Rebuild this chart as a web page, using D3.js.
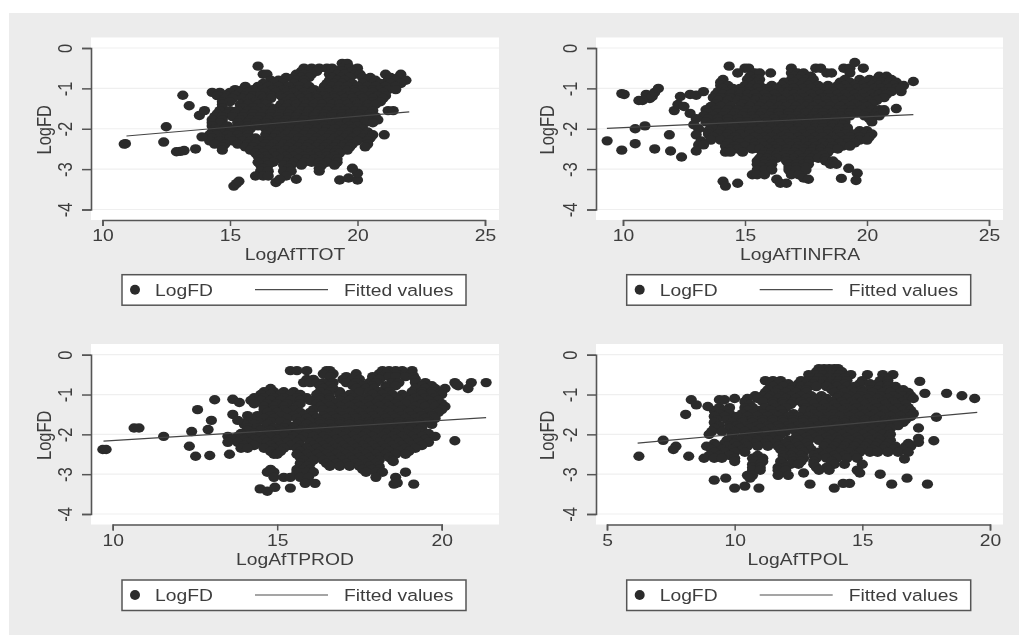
<!DOCTYPE html>
<html>
<head>
<meta charset="utf-8">
<script src="https://cdn.jsdelivr.net/npm/d3@7"></script>
<style>
html, body { margin: 0; padding: 0; background: #fff; }
svg { display: block; filter: blur(0.6px); }
text { font-family: "Liberation Sans", Arial, sans-serif; fill: #3d3d3d; }
</style>
</head>
<body>
<svg id="svgId" width="1019" height="641"></svg>
<script>
var yTicks = [0, -1, -2, -3, -4];
var yTickLabels = ["0", "-1", "-2", "-3", "-4"];
var legendLabels = ["LogFD", "Fitted values"];

// each row: [LogFD, [x values read at that height]]
var ttotRows = [
    [-0.38, [19.4, 19.6]],
    [-0.5, [17.9, 18.2, 18.5, 18.8, 19.0, 19.4, 19.7, 20.0]],
    [-0.58, [17.8, 18.1, 18.4, 19.1, 19.4, 19.8]],
    [-0.65, [16.3, 16.45, 17.6, 17.9, 18.2, 18.9, 19.2, 19.5, 19.9, 20.1, 21.1, 21.7]],
    [-0.73, [17.2, 17.5, 17.8, 18.1, 19.0, 19.35, 19.7, 20.2, 20.5, 21.3, 21.6]],
    [-0.8, [16.6, 16.9, 17.6, 17.9, 18.9, 19.2, 19.5, 20.4, 20.7, 21.2, 21.5, 21.9]],
    [-0.88, [16.3, 16.7, 17.1, 17.5, 17.9, 18.8, 19.1, 19.4, 19.8, 20.2, 20.6, 20.9, 21.3, 21.7]],
    [-0.95, [15.6, 16.1, 16.5, 16.9, 17.3, 17.7, 18.1, 18.7, 19.0, 19.3, 19.6, 20.0, 20.4, 20.7, 21.1, 21.5]],
    [-1.03, [15.2, 15.5, 15.9, 16.3, 16.7, 17.1, 17.5, 17.7, 18.3, 18.9, 19.2, 19.5, 19.9, 20.2, 20.6, 20.9, 21.2, 21.5]],
    [-1.1, [14.3, 14.6, 15.0, 15.4, 15.7, 16.0, 16.4, 16.8, 17.2, 17.5, 17.9, 18.2, 18.6, 18.9, 19.2, 19.6, 19.9, 20.3, 20.6, 21.0]],
    [-1.18, [14.5, 14.9, 15.2, 15.6, 15.9, 16.2, 16.6, 17.0, 17.3, 17.7, 18.0, 18.4, 18.7, 19.1, 19.4, 19.7, 20.1, 20.5, 20.8, 21.1]],
    [-1.25, [14.8, 15.1, 15.5, 15.8, 16.3, 16.6, 17.1, 17.4, 17.8, 18.1, 18.4, 18.8, 19.1, 19.5, 19.8, 20.2, 20.6, 21.0]],
    [-1.33, [14.7, 15.0, 15.6, 16.0, 16.4, 17.2, 17.5, 17.9, 18.2, 18.5, 18.9, 19.2, 19.5, 19.9, 20.3, 20.6, 20.9]],
    [-1.4, [14.7, 15.4, 15.7, 16.1, 16.4, 17.0, 17.3, 17.6, 18.0, 18.3, 18.6, 19.0, 19.3, 19.6, 20.0, 20.4, 20.7]],
    [-1.48, [14.7, 15.5, 15.9, 16.2, 16.6, 16.9, 17.2, 17.6, 17.9, 18.3, 18.6, 18.9, 19.3, 19.7, 20.0, 20.4]],
    [-1.55, [14.6, 15.0, 15.3, 15.7, 16.0, 16.4, 16.7, 17.1, 17.4, 17.8, 18.1, 18.5, 18.8, 19.2, 19.5, 19.9, 20.2, 20.6, 21.2, 21.4]],
    [-1.63, [14.5, 14.9, 15.2, 15.6, 15.9, 16.3, 16.6, 17.0, 17.3, 17.7, 18.0, 18.4, 18.7, 19.1, 19.4, 19.7, 20.1, 20.5]],
    [-1.7, [14.4, 14.7, 15.1, 15.5, 15.9, 16.2, 16.6, 16.9, 17.3, 17.6, 18.0, 18.3, 18.7, 19.0, 19.4, 19.7, 20.0, 20.4, 20.7]],
    [-1.78, [14.3, 14.7, 15.4, 15.8, 16.1, 16.5, 16.9, 17.2, 17.6, 17.9, 18.3, 18.6, 19.0, 19.3, 19.7, 20.0, 20.4, 20.8]],
    [-1.85, [14.3, 14.6, 15.3, 15.7, 16.0, 16.4, 16.8, 17.1, 17.5, 17.8, 18.2, 18.5, 18.9, 19.2, 19.6, 19.9, 20.3, 20.6]],
    [-1.93, [14.3, 14.9, 15.4, 15.7, 16.1, 16.5, 16.9, 17.2, 17.6, 17.9, 18.3, 18.7, 19.0, 19.3, 19.7, 20.0]],
    [-2.0, [14.4, 14.8, 15.2, 15.5, 15.8, 16.4, 16.7, 17.0, 17.4, 17.7, 18.1, 18.4, 18.8, 19.1, 19.5, 19.8, 20.2]],
    [-2.08, [14.3, 14.7, 15.0, 15.4, 15.7, 16.5, 16.9, 17.3, 17.6, 18.0, 18.3, 18.7, 19.0, 19.4, 19.7, 20.0, 20.4]],
    [-2.15, [14.2, 14.5, 14.9, 15.3, 15.7, 16.4, 16.8, 17.2, 17.5, 17.9, 18.2, 18.6, 18.9, 19.3, 19.6, 20.0, 20.3, 20.6, 21.05]],
    [-2.23, [14.3, 14.6, 15.0, 15.4, 15.7, 16.0, 16.4, 16.7, 17.0, 17.4, 17.7, 18.1, 18.4, 18.8, 19.1, 19.5, 19.8, 20.2, 20.5]],
    [-2.3, [14.2, 14.6, 15.1, 15.5, 15.8, 16.2, 16.5, 16.9, 17.2, 17.6, 17.9, 18.3, 18.6, 19.0, 19.3, 19.7, 20.0, 20.4]],
    [-2.38, [14.4, 14.8, 15.3, 15.7, 16.0, 16.4, 16.7, 17.1, 17.4, 17.8, 18.1, 18.5, 18.8, 19.2, 19.5, 19.8, 20.4]],
    [-2.45, [14.7, 15.6, 15.9, 16.3, 16.6, 17.0, 17.3, 17.7, 18.0, 18.4, 18.7, 19.1, 19.4, 19.7, 20.3]],
    [-2.53, [14.7, 15.8, 16.1, 16.5, 16.8, 17.2, 17.5, 17.9, 18.2, 18.6, 18.9, 19.2, 19.6]],
    [-2.6, [16.0, 16.3, 16.7, 17.0, 17.4, 17.7, 18.1, 18.4, 18.8, 19.1, 19.3]],
    [-2.68, [16.1, 16.4, 16.8, 17.2, 17.5, 17.9, 18.2, 18.5, 18.8, 19.1]],
    [-2.75, [16.2, 16.5, 17.0, 17.3, 17.7, 18.0, 18.3, 18.6, 18.9, 19.2]],
    [-2.83, [16.1, 16.4, 16.7, 17.2, 17.5, 17.9, 18.2, 18.5, 18.8, 19.2]],
    [-2.9, [16.2, 16.5, 17.1, 17.4, 17.8, 18.6, 19.1]],
    [-2.98, [16.3, 17.3, 18.5]],
    [-3.05, [16.2, 16.5, 17.1, 17.4, 18.5]],
    [-3.17, [16.0, 16.3, 16.5, 17.2]]
];
var ttotOutliers = [[10.9, -2.37], [10.85, -2.38], [12.4, -2.33], [12.5, -1.95], [13.15, -1.17], [13.4, -1.43], [13.8, -1.67], [14.0, -1.55],
    [12.9, -2.57], [13.05, -2.56], [13.2, -2.54], [13.65, -2.5], [13.9, -2.2], [15.15, -3.42], [15.25, -3.36], [15.35, -3.3], [16.1, -0.45],
    [16.8, -3.33], [16.95, -3.25], [17.6, -3.25], [19.3, -3.27], [19.65, -3.22], [20.0, -3.27], [20.0, -3.1], [19.8, -2.98]];
var ttotFit = [[10.94, -2.18], [22.03, -1.58]];

var infraRows = [
    [-0.5, [15.0, 15.15, 16.9, 17.9, 18.1, 19.05, 19.3, 19.85]],
    [-0.62, [14.7, 15.4, 15.6, 16.05, 16.9, 17.15, 17.4, 18.35, 18.55, 19.3]],
    [-0.7, [15.2, 17.0, 17.3, 17.7, 20.5, 20.8]],
    [-0.78, [14.1, 15.1, 15.4, 15.6, 16.9, 17.2, 17.5, 17.8, 19.1, 19.7, 20.1, 20.4, 20.7, 21.0]],
    [-0.85, [14.0, 15.2, 15.5, 16.6, 17.0, 17.4, 17.7, 18.9, 19.3, 19.9, 20.3, 20.6, 20.9, 21.2]],
    [-0.93, [14.0, 14.3, 15.0, 15.3, 15.6, 16.1, 16.5, 16.9, 17.3, 17.6, 18.0, 18.4, 18.8, 19.1, 19.5, 19.8, 20.2, 20.5, 20.8, 21.1, 21.5]],
    [-1.0, [14.1, 14.5, 14.8, 15.2, 15.5, 15.9, 16.3, 16.7, 17.0, 17.4, 17.7, 18.1, 18.5, 18.9, 19.2, 19.6, 19.9, 20.3, 20.6, 20.9, 21.2]],
    [-1.08, [13.9, 14.2, 14.6, 14.9, 15.2, 15.6, 16.0, 16.5, 16.8, 17.1, 17.5, 17.9, 18.3, 18.6, 19.0, 19.3, 19.7, 20.0, 20.4, 20.7, 21.0, 21.4]],
    [-1.15, [13.8, 14.1, 14.4, 14.8, 15.1, 15.4, 15.8, 16.2, 16.7, 17.0, 17.3, 17.7, 18.1, 18.4, 18.8, 19.1, 19.5, 19.8, 20.2, 20.5, 20.8]],
    [-1.23, [13.7, 14.0, 14.4, 14.8, 15.1, 15.5, 15.9, 16.3, 16.7, 17.1, 17.4, 17.8, 18.2, 18.5, 18.9, 19.2, 19.6, 19.9, 20.3, 20.7]],
    [-1.3, [13.9, 14.3, 14.7, 15.0, 15.4, 15.8, 16.2, 16.5, 16.9, 17.2, 17.6, 18.0, 18.3, 18.7, 19.0, 19.4, 19.7, 20.1, 20.4]],
    [-1.38, [13.8, 14.2, 14.9, 15.3, 15.7, 16.1, 16.6, 16.9, 17.3, 17.6, 18.0, 18.4, 18.7, 19.1, 19.5, 19.9, 20.2]],
    [-1.45, [13.6, 14.0, 14.4, 14.8, 15.2, 15.6, 16.0, 16.4, 16.7, 17.1, 17.5, 17.8, 18.2, 18.5, 18.9, 19.3, 19.7, 20.0]],
    [-1.53, [13.4, 13.8, 14.3, 14.7, 15.1, 15.5, 15.8, 16.2, 16.5, 17.0, 17.3, 17.7, 18.0, 18.4, 18.8, 19.1, 19.4, 19.8, 20.2, 20.5, 20.7]],
    [-1.6, [13.5, 13.9, 14.2, 14.6, 15.0, 15.3, 15.7, 16.1, 16.4, 16.8, 17.2, 17.5, 17.9, 18.2, 18.6, 19.0, 19.3, 19.6, 20.0, 20.4]],
    [-1.68, [13.3, 13.7, 14.1, 14.5, 14.9, 15.3, 15.6, 16.0, 16.4, 16.8, 17.1, 17.5, 17.8, 18.2, 18.6, 18.9, 19.3, 19.9, 20.3, 20.5]],
    [-1.75, [13.5, 13.9, 14.3, 14.7, 15.1, 15.4, 15.8, 16.2, 16.6, 16.9, 17.3, 17.7, 18.0, 18.4, 18.7, 19.1, 20.1]],
    [-1.83, [13.4, 13.9, 14.3, 14.8, 15.1, 15.5, 15.9, 16.3, 16.6, 17.0, 17.3, 17.7, 18.0, 18.4, 18.8, 19.1, 20.2]],
    [-1.9, [13.6, 14.0, 14.5, 14.9, 15.3, 15.7, 16.1, 16.4, 16.8, 17.2, 17.5, 17.9, 18.2, 18.6, 19.0]],
    [-1.98, [13.7, 14.1, 14.6, 15.0, 15.3, 15.7, 16.1, 16.5, 16.8, 17.2, 17.5, 17.9, 18.2, 18.6, 18.9, 19.2]],
    [-2.05, [13.5, 14.0, 14.4, 14.9, 15.2, 15.5, 15.9, 16.3, 16.6, 17.0, 17.3, 17.7, 18.1, 18.4, 18.8, 19.2, 19.7, 20.0]],
    [-2.13, [13.5, 13.9, 14.3, 14.8, 15.2, 15.6, 16.0, 16.3, 16.7, 17.0, 17.4, 17.7, 18.1, 18.4, 18.8, 19.1, 19.5, 19.9, 20.2]],
    [-2.2, [13.7, 14.2, 14.6, 15.0, 15.4, 15.8, 16.1, 16.5, 16.8, 17.2, 17.5, 17.9, 18.2, 18.6, 18.9, 19.3, 19.7, 20.1]],
    [-2.28, [13.6, 14.0, 14.4, 14.7, 15.2, 15.6, 15.9, 16.3, 16.6, 17.0, 17.3, 17.7, 18.0, 18.4, 18.7, 19.1, 19.4, 19.7, 20.0]],
    [-2.35, [14.3, 14.8, 15.4, 15.7, 16.1, 16.4, 16.8, 17.1, 17.5, 17.8, 18.2, 18.5, 18.9, 19.2, 19.5]],
    [-2.43, [14.2, 14.6, 15.0, 15.4, 15.8, 16.2, 16.5, 16.9, 17.2, 17.6, 17.9, 18.3, 18.6, 19.0, 19.3]],
    [-2.5, [14.4, 14.7, 15.3, 15.6, 16.0, 16.3, 16.7, 17.1, 17.4, 17.8, 18.1, 18.5, 18.8]],
    [-2.58, [14.2, 14.4, 14.9, 15.8, 16.1, 16.4, 16.7, 17.0, 17.4, 17.7, 18.1, 18.4]],
    [-2.65, [15.7, 16.0, 16.3, 16.6, 16.9, 17.2, 17.6, 17.9, 18.2]],
    [-2.73, [15.6, 15.9, 16.3, 16.7, 17.0, 17.4, 17.7, 18.0, 18.3]],
    [-2.8, [15.5, 15.8, 16.1, 16.7, 17.0, 17.3, 17.6, 18.3, 18.6]],
    [-2.88, [15.5, 15.8, 16.1, 16.8, 17.1, 17.4, 17.6, 18.5, 18.75]],
    [-2.95, [15.7, 16.0, 16.8, 17.1, 17.5]],
    [-3.02, [15.5, 15.8, 16.1, 16.8, 17.1, 17.5]],
    [-3.14, [15.3, 15.5, 15.8, 16.9, 17.2]]
];
var infraOutliers = [[9.95, -1.13], [10.05, -1.15], [10.65, -1.3], [10.8, -1.3], [10.95, -1.15], [11.1, -1.25], [11.2, -1.2], [11.3, -1.1], [11.45, -1.0],
    [10.5, -2.0], [10.9, -1.93], [9.35, -2.3], [9.95, -2.53], [10.5, -2.37], [11.3, -2.5], [11.95, -2.55], [12.4, -2.7], [11.9, -2.15],
    [12.35, -1.2], [12.75, -1.15], [13.0, -1.17], [13.3, -1.08], [12.1, -1.55], [12.25, -1.4], [12.5, -1.45], [12.75, -1.62], [13.0, -1.75],
    [12.9, -1.9], [13.1, -2.0], [13.0, -2.15], [13.2, -2.3], [13.1, -2.4], [13.3, -2.4], [13.0, -2.55], [14.35, -0.45], [19.5, -0.36],
    [21.9, -0.83], [21.4, -1.0], [21.2, -1.5], [20.7, -1.58], [19.25, -2.98], [19.6, -3.1], [19.55, -3.28], [18.95, -3.23], [14.1, -3.3], [14.2, -3.42],
    [14.7, -3.35], [16.3, -3.25], [16.45, -3.35], [16.7, -3.35], [17.4, -3.22], [17.6, -3.25]];
var infraFit = [[9.34, -1.99], [21.9, -1.65]];

var prodRows = [
    [-0.4, [15.4, 15.6, 15.9, 16.5, 16.6, 18.2, 18.4, 18.6, 18.8, 19.1]],
    [-0.48, [16.4, 16.7, 17.4, 18.1, 18.3, 18.6, 18.9, 19.1]],
    [-0.55, [16.6, 17.1, 17.4, 17.9, 18.2, 18.4, 18.6, 18.9, 19.15]],
    [-0.62, [15.9, 16.1, 17.0, 17.3, 17.5, 17.9, 18.1, 19.2]],
    [-0.7, [15.8, 16.0, 16.2, 16.4, 16.7, 17.1, 17.4, 17.8, 18.0, 18.5, 18.7, 19.2, 19.5, 20.4, 20.9, 21.35]],
    [-0.78, [16.3, 16.6, 17.3, 17.6, 17.9, 18.3, 18.6, 19.4, 19.7, 20.5]],
    [-0.85, [14.8, 16.4, 16.7, 17.4, 17.7, 17.95, 18.3, 19.2, 19.5, 19.8, 20.1, 20.8]],
    [-0.93, [14.6, 14.9, 15.2, 15.5, 16.3, 16.6, 16.9, 17.5, 17.8, 18.1, 18.4, 19.1, 19.4, 19.7, 20.0]],
    [-1.0, [14.5, 14.8, 15.1, 15.4, 15.7, 16.2, 16.5, 16.9, 17.2, 17.9, 18.2, 18.5, 18.8, 19.1, 19.4, 19.7, 20.0]],
    [-1.08, [14.3, 14.6, 14.9, 15.2, 15.6, 15.9, 16.3, 16.6, 17.0, 17.3, 17.7, 18.0, 18.3, 18.6, 18.9, 19.2, 19.5, 19.8]],
    [-1.15, [14.2, 14.5, 14.8, 15.1, 15.4, 15.7, 16.0, 16.3, 16.6, 16.9, 17.2, 17.5, 17.8, 18.1, 18.4, 18.7, 19.0, 19.3, 19.6, 19.9]],
    [-1.23, [14.3, 14.7, 15.0, 15.3, 15.7, 16.2, 16.5, 16.8, 17.1, 17.4, 17.7, 18.0, 18.3, 18.6, 18.9, 19.4, 19.7, 20.0]],
    [-1.3, [14.6, 14.9, 15.2, 15.6, 16.3, 16.6, 16.9, 17.2, 17.5, 17.8, 18.1, 18.4, 18.7, 19.2, 19.5, 19.8, 20.1]],
    [-1.38, [14.6, 14.9, 15.2, 15.5, 16.1, 16.4, 16.7, 17.0, 17.3, 17.6, 17.9, 18.2, 18.5, 18.8, 19.1, 20.0]],
    [-1.45, [14.7, 15.0, 15.3, 15.7, 16.0, 16.6, 16.9, 17.2, 17.5, 17.8, 18.1, 18.4, 18.7, 19.0, 19.3, 19.6, 19.9]],
    [-1.53, [14.1, 14.4, 14.8, 15.1, 15.5, 15.8, 16.1, 16.4, 16.7, 17.0, 17.3, 17.6, 17.9, 18.2, 18.5, 18.8, 19.1, 19.4, 19.7]],
    [-1.6, [14.2, 14.6, 14.9, 15.3, 15.6, 15.9, 16.2, 16.5, 16.8, 17.1, 17.4, 17.7, 18.0, 18.3, 18.6, 18.9, 19.2, 19.5, 19.8]],
    [-1.68, [14.1, 14.4, 14.8, 15.1, 15.7, 16.0, 16.3, 16.6, 16.9, 17.2, 17.5, 17.8, 18.1, 18.4, 18.7, 19.0, 19.3, 19.6]],
    [-1.75, [14.0, 14.3, 14.7, 15.3, 15.6, 15.9, 16.3, 16.6, 16.9, 17.2, 17.5, 17.8, 18.1, 18.4, 18.7, 19.0, 19.3, 19.7]],
    [-1.83, [14.1, 14.4, 14.9, 15.2, 15.5, 15.8, 16.1, 16.4, 16.7, 17.0, 17.3, 17.6, 17.9, 18.2, 18.5, 18.8, 19.1, 19.4]],
    [-1.9, [14.1, 14.5, 14.8, 15.1, 15.4, 15.7, 16.0, 16.3, 16.6, 16.9, 17.2, 17.5, 17.8, 18.1, 18.4, 18.7, 19.0, 19.3]],
    [-1.98, [13.9, 14.3, 14.7, 15.0, 15.3, 15.6, 15.9, 16.2, 16.5, 16.8, 17.1, 17.4, 17.7, 18.0, 18.3, 18.6, 18.9, 19.2, 19.6]],
    [-2.05, [13.5, 13.8, 14.1, 14.5, 14.8, 15.2, 15.5, 15.8, 16.1, 16.4, 16.7, 17.0, 17.3, 17.6, 17.9, 18.2, 18.5, 18.8, 19.1, 19.4, 19.8]],
    [-2.13, [13.6, 14.0, 14.3, 14.6, 15.0, 15.4, 15.7, 16.2, 16.5, 16.8, 17.1, 17.4, 17.7, 18.0, 18.3, 18.6, 18.9, 19.2, 19.5]],
    [-2.2, [13.5, 13.8, 14.1, 14.4, 14.7, 15.0, 15.3, 15.6, 16.0, 16.3, 16.6, 16.9, 17.2, 17.5, 17.8, 18.1, 18.4, 18.7, 19.0, 19.3, 19.6]],
    [-2.28, [14.0, 14.3, 14.8, 15.1, 15.4, 15.7, 16.1, 16.4, 16.7, 17.0, 17.3, 17.6, 17.9, 18.2, 18.5, 18.8, 19.1, 19.4]],
    [-2.35, [13.9, 14.1, 14.6, 14.9, 15.2, 15.6, 15.9, 16.2, 16.5, 16.8, 17.1, 17.4, 17.7, 18.0, 18.3, 18.6, 18.9, 19.2]],
    [-2.43, [14.8, 15.1, 15.7, 16.0, 16.3, 16.6, 16.9, 17.2, 17.5, 17.8, 18.1, 18.4, 18.7, 19.0]],
    [-2.5, [14.9, 15.0, 15.6, 15.9, 16.2, 16.5, 16.8, 17.1, 17.4, 17.7, 18.0, 18.3, 18.6, 18.9]],
    [-2.58, [15.7, 16.0, 16.3, 16.6, 16.9, 17.2, 17.5, 17.8, 18.1, 18.4]],
    [-2.65, [15.8, 16.1, 16.4, 16.7, 17.0, 17.3, 17.6, 17.9, 18.1, 18.5]],
    [-2.73, [15.7, 16.0, 16.5, 16.8, 17.1, 17.4, 17.7, 18.0]],
    [-2.8, [15.7, 15.9, 16.6, 16.9, 17.2, 17.5, 17.8, 18.1]],
    [-2.88, [14.8, 15.6, 15.8, 16.0, 17.6, 17.9, 18.1]],
    [-2.95, [14.7, 14.9, 15.6, 15.9, 16.1, 17.7, 18.0, 18.2, 18.9]],
    [-3.08, [14.9, 15.2, 15.4, 15.7, 15.95, 18.0, 18.6]]
];
var prodOutliers = [[9.7, -2.38], [9.8, -2.38], [10.65, -1.84], [10.8, -1.84], [11.55, -2.05], [12.33, -2.3], [12.52, -2.55], [12.4, -1.93], [12.9, -1.88],
    [13.0, -1.65], [12.58, -1.38], [13.1, -1.13], [12.95, -2.53], [13.55, -2.5], [13.65, -1.5], [13.8, -1.65], [13.65, -1.12], [13.85, -1.2],
    [14.48, -3.37], [14.7, -3.43], [14.93, -3.33], [15.4, -3.35], [15.85, -3.23], [16.15, -3.23], [18.55, -3.25], [18.65, -3.22], [19.15, -3.25],
    [20.4, -2.16], [18.53, -2.68], [20.45, -0.75]];
var prodFit = [[9.72, -2.17], [21.35, -1.58]];

var polRows = [
    [-0.35, [13.3, 13.5, 13.7, 13.9, 14.05]],
    [-0.43, [13.2, 13.4, 13.7, 14.0, 14.2]],
    [-0.5, [12.9, 13.2, 13.5, 13.8, 14.1, 14.55, 15.2, 15.8, 16.2]],
    [-0.58, [13.0, 13.3, 13.7, 14.0, 14.3, 15.9]],
    [-0.65, [11.2, 11.5, 11.8, 12.6, 12.9, 13.2, 13.5, 13.8, 14.1, 14.4, 15.0, 15.7, 16.0]],
    [-0.73, [11.4, 11.7, 12.1, 12.5, 12.8, 13.1, 13.4, 13.7, 14.0, 14.3, 14.9, 15.3, 15.6, 16.0]],
    [-0.8, [11.5, 11.9, 12.3, 12.6, 12.9, 13.2, 13.6, 14.0, 14.4, 14.7, 15.4, 15.7, 16.0, 16.3]],
    [-0.88, [11.3, 11.7, 12.2, 12.5, 12.8, 13.8, 14.2, 14.6, 15.0, 15.3, 15.6, 16.0, 16.3, 16.6]],
    [-0.95, [11.2, 11.6, 12.0, 12.4, 12.8, 13.9, 14.3, 14.7, 15.0, 15.4, 15.8, 16.1, 16.5, 16.8]],
    [-1.03, [10.8, 11.1, 11.4, 11.8, 12.2, 12.6, 13.0, 13.4, 14.1, 14.5, 14.9, 15.3, 15.7, 16.2, 16.6, 16.9]],
    [-1.1, [10.5, 10.9, 11.3, 11.7, 12.0, 12.4, 12.8, 13.2, 13.6, 14.0, 14.4, 14.8, 15.2, 15.6, 16.0, 16.4, 16.8, 17.0]],
    [-1.18, [10.4, 11.1, 11.5, 11.9, 12.3, 12.6, 13.0, 13.4, 13.8, 14.2, 14.6, 15.0, 15.4, 15.8, 16.2, 16.6]],
    [-1.25, [10.6, 11.5, 11.9, 12.2, 12.7, 13.1, 13.5, 13.9, 14.3, 14.7, 15.1, 15.5, 15.9, 16.3, 16.7]],
    [-1.33, [9.4, 9.8, 10.4, 10.7, 11.2, 11.6, 12.0, 12.8, 13.2, 13.6, 14.0, 14.4, 14.8, 15.2, 15.6, 16.0, 16.4, 16.8]],
    [-1.4, [9.2, 9.6, 10.5, 10.9, 11.4, 11.8, 12.7, 13.0, 13.4, 13.8, 14.2, 14.6, 15.0, 15.4, 15.8, 16.2, 16.6, 16.9]],
    [-1.48, [9.4, 9.8, 10.3, 10.7, 11.1, 11.5, 11.9, 12.3, 13.1, 13.5, 13.9, 14.3, 14.7, 15.1, 15.5, 15.9, 16.3, 16.7, 17.0]],
    [-1.55, [9.2, 9.6, 10.1, 10.5, 10.9, 11.3, 11.7, 12.1, 12.5, 12.9, 13.3, 13.7, 14.1, 14.5, 14.9, 15.3, 15.7, 16.1, 16.5, 16.9]],
    [-1.63, [9.3, 9.7, 10.3, 10.7, 11.1, 11.5, 11.9, 12.3, 12.7, 13.1, 13.5, 13.9, 14.3, 14.7, 15.1, 15.5, 15.9, 16.3, 16.7]],
    [-1.7, [9.2, 9.9, 10.3, 10.7, 11.1, 11.5, 11.9, 12.3, 12.7, 13.1, 13.5, 13.9, 14.3, 14.7, 15.1, 15.5, 15.9, 16.3, 16.6]],
    [-1.78, [9.4, 9.8, 10.1, 10.5, 10.9, 11.3, 11.7, 12.1, 12.5, 12.9, 13.3, 13.7, 14.1, 14.5, 14.9, 15.3, 15.7, 16.1, 16.4]],
    [-1.85, [9.2, 9.8, 10.2, 10.6, 11.0, 11.4, 11.8, 12.2, 12.6, 13.0, 13.4, 13.8, 14.2, 14.6, 15.0, 15.4, 15.8, 16.1]],
    [-1.93, [9.1, 9.5, 10.0, 10.4, 10.8, 11.2, 11.6, 12.0, 12.4, 12.8, 13.2, 13.6, 14.0, 14.4, 14.8, 15.2, 15.6, 16.0]],
    [-2.0, [9.0, 9.9, 10.6, 11.0, 11.4, 11.8, 12.6, 13.0, 13.4, 13.8, 14.2, 14.6, 15.0, 15.4, 15.8, 16.1]],
    [-2.08, [9.9, 10.3, 10.7, 11.1, 11.5, 12.4, 12.8, 13.2, 13.6, 14.0, 14.4, 14.8, 15.2, 15.6, 16.0]],
    [-2.15, [9.7, 10.1, 10.5, 10.9, 11.3, 11.7, 12.1, 12.5, 12.9, 13.3, 13.7, 14.1, 14.5, 14.9, 15.3, 15.7, 16.1]],
    [-2.23, [9.2, 9.6, 10.0, 10.4, 10.8, 11.2, 11.6, 12.0, 12.4, 12.8, 13.6, 14.0, 14.4, 14.8, 15.2, 15.6, 16.0, 16.8]],
    [-2.3, [8.9, 9.3, 9.7, 10.1, 10.5, 10.9, 11.3, 11.7, 12.1, 12.5, 12.9, 13.5, 13.9, 14.3, 14.7, 15.1, 15.5, 15.9, 16.3, 16.7, 16.9]],
    [-2.38, [9.1, 9.5, 9.9, 10.3, 11.8, 12.2, 12.6, 13.0, 13.8, 14.2, 14.6, 15.0, 15.4, 15.8, 16.2, 16.6]],
    [-2.45, [9.2, 9.6, 10.0, 10.4, 11.9, 12.3, 12.7, 13.3, 13.7, 14.1, 14.5, 14.9, 15.3, 15.6, 16.0, 16.4, 16.8]],
    [-2.53, [9.0, 9.4, 9.8, 10.9, 11.9, 12.2, 12.6, 13.1, 13.5, 13.9, 14.3, 14.7]],
    [-2.6, [8.8, 9.2, 9.5, 10.0, 10.7, 11.1, 11.9, 12.3, 12.7, 13.2, 13.6, 14.0, 14.4, 14.8]],
    [-2.68, [10.0, 10.8, 11.1, 11.8, 12.3, 12.6, 13.1, 13.8]],
    [-2.75, [10.7, 11.0, 11.9, 12.2, 12.5, 13.1, 13.9, 14.3, 15.0]],
    [-2.83, [10.7, 11.0, 11.7, 12.0, 13.2, 13.6]],
    [-2.9, [10.7, 11.0, 11.7, 12.0, 13.3, 13.7, 14.8]],
    [-3.03, [10.5, 10.7, 11.7, 12.1]]
];
var polOutliers = [[6.25, -2.55], [7.2, -2.15], [7.7, -2.3], [7.6, -2.38], [8.2, -2.55], [8.08, -1.5], [8.3, -1.13], [8.5, -1.26], [8.95, -1.3], [9.4, -1.13], [9.6, -1.13], [10.0, -1.1],
    [17.25, -0.67], [17.45, -0.97], [18.3, -0.97], [18.9, -1.03], [19.4, -1.1], [17.9, -1.57], [17.8, -2.16], [17.2, -1.84], [17.2, -2.1], [17.2, -2.2],
    [16.65, -2.62], [16.75, -3.1], [17.55, -3.25], [16.15, -3.25], [15.7, -3.0], [14.9, -2.97], [14.5, -3.23], [14.25, -3.23], [13.9, -3.35], [12.95, -3.25], [12.7, -2.97],
    [9.2, -3.15], [9.65, -3.1], [10.0, -3.35], [10.4, -3.3], [10.95, -3.35], [10.6, -3.1]];
var polFit = [[6.2, -2.22], [19.5, -1.45]];

var hStretch = 1.17;

function drawPanel(svg, p) {
    var g = svg.append("g").attr("transform", "translate(" + p.left + "," + p.top + ")");
    var width = p.width, height = p.height;

    g.append("rect").attr("width", width).attr("height", height).attr("fill", "#fff");

    var x = d3.scaleLinear().domain(p.xDomain).range(p.xRange);
    var y = d3.scaleLinear().domain([0, -4]).range(p.yRange);

    // grid
    g.selectAll(".grid").data(yTicks).enter().append("line")
        .attr("x1", 0).attr("x2", width)
        .attr("y1", function (d) { return y(d); })
        .attr("y2", function (d) { return y(d); })
        .attr("stroke", "#efefef").attr("stroke-width", 1.2);

    // points
    var pts = [];
    p.rows.forEach(function (r) {
        r[1].forEach(function (v) { pts.push([v, r[0]]); });
    });
    pts = pts.concat(p.outliers);
    g.selectAll("ellipse").data(pts).enter().append("ellipse")
        .attr("cx", function (d) { return x(d[0]); })
        .attr("cy", function (d) { return y(d[1]); })
        .attr("rx", 5.6).attr("ry", 4.7)
        .attr("fill", "#2b2b2b");

    // fitted line
    g.append("path").datum(p.fit)
        .attr("fill", "none").attr("stroke", "#444").attr("stroke-width", 1.2)
        .attr("d", d3.line().x(function (d) { return x(d[0]); }).y(function (d) { return y(d[1]); }));

    // axes
    var yAxis = g.append("g").call(d3.axisLeft(y).tickValues(yTicks)
        .tickFormat(function (d, i) { return yTickLabels[i]; }).tickSize(9).tickPadding(0));
    yAxis.selectAll("text").attr("x", null).attr("dy", null).attr("y", null)
        .attr("text-anchor", "middle").attr("font-size", 16.5)
        .attr("transform", "translate(-19,0) scale(" + hStretch + ",1) rotate(-90)");

    var xAxis = g.append("g").attr("transform", "translate(0," + height + ")")
        .call(d3.axisBottom(x).tickValues(p.xTicks).tickSize(6).tickPadding(0));
    xAxis.selectAll("text").attr("y", null).attr("dy", null)
        .attr("font-size", 16.5)
        .attr("transform", "translate(0,21) scale(" + hStretch + ",1)");

    [yAxis, xAxis].forEach(function (a) {
        a.selectAll("path, line").attr("stroke", "#555").attr("stroke-width", 1.5);
        a.select(".domain").attr("stroke-width", 1.6);
    });

    // axis titles
    g.append("text").attr("text-anchor", "middle").attr("font-size", 16.5)
        .attr("transform", "translate(" + p.titleX + "," + (height + 40) + ") scale(" + hStretch + ",1)")
        .text(p.xTitle);
    g.append("text").attr("text-anchor", "middle").attr("font-size", 16.5)
        .attr("transform", "translate(" + p.ylabelX + "," + (height / 2 + 1) + ") scale(" + hStretch + ",1) rotate(-90)")
        .text("LogFD");

    // legend
    var lg = svg.append("g").attr("transform", "translate(" + p.legendX + "," + p.legendY + ")");
    lg.append("rect").attr("width", 344).attr("height", 30.5)
        .attr("fill", "#fff").attr("stroke", "#555").attr("stroke-width", 1.5);
    lg.append("ellipse").attr("cx", 13).attr("cy", 15).attr("rx", 5).attr("ry", 5).attr("fill", "#2b2b2b");
    lg.append("text").attr("font-size", 16.5)
        .attr("transform", "translate(33,21) scale(" + hStretch + ",1)").text(legendLabels[0]);
    lg.append("line").attr("x1", 133).attr("x2", 206).attr("y1", 15).attr("y2", 15)
        .attr("stroke", "#4c4c4c").attr("stroke-width", 1.2);
    lg.append("text").attr("font-size", 16.5)
        .attr("transform", "translate(222,21) scale(" + hStretch + ",1)").text(legendLabels[1]);
}

var svg = d3.select("#svgId");
svg.append("rect").attr("x", 9).attr("y", 13).attr("width", 1010).attr("height", 622).attr("fill", "#ececec");

drawPanel(svg, { left: 91, top: 37.5, width: 408, height: 182.5,
    xDomain: [10, 25], xRange: [11.5, 394], xTicks: [10, 15, 20, 25], yRange: [10.5, 172],
    rows: ttotRows, outliers: ttotOutliers, fit: ttotFit, xTitle: "LogAfTTOT", titleX: 204, ylabelX: -40,
    legendX: 122, legendY: 274.7 });
drawPanel(svg, { left: 596, top: 37.5, width: 407, height: 182.5,
    xDomain: [10, 25], xRange: [27, 393], xTicks: [10, 15, 20, 25], yRange: [10.5, 172],
    rows: infraRows, outliers: infraOutliers, fit: infraFit, xTitle: "LogAfTINFRA", titleX: 204, ylabelX: -42,
    legendX: 626.7, legendY: 274.7 });
drawPanel(svg, { left: 91, top: 344, width: 408, height: 180.5,
    xDomain: [10, 20], xRange: [21.7, 350.7], xTicks: [10, 15, 20], yRange: [10.7, 170],
    rows: prodRows, outliers: prodOutliers, fit: prodFit, xTitle: "LogAfTPROD", titleX: 204, ylabelX: -40,
    legendX: 122, legendY: 580 });
drawPanel(svg, { left: 596, top: 344, width: 407, height: 180.5,
    xDomain: [5, 20], xRange: [11, 394], xTicks: [5, 10, 15, 20], yRange: [10.7, 170],
    rows: polRows, outliers: polOutliers, fit: polFit, xTitle: "LogAfTPOL", titleX: 202, ylabelX: -42,
    legendX: 626.7, legendY: 580 });
</script>
</body>
</html>
